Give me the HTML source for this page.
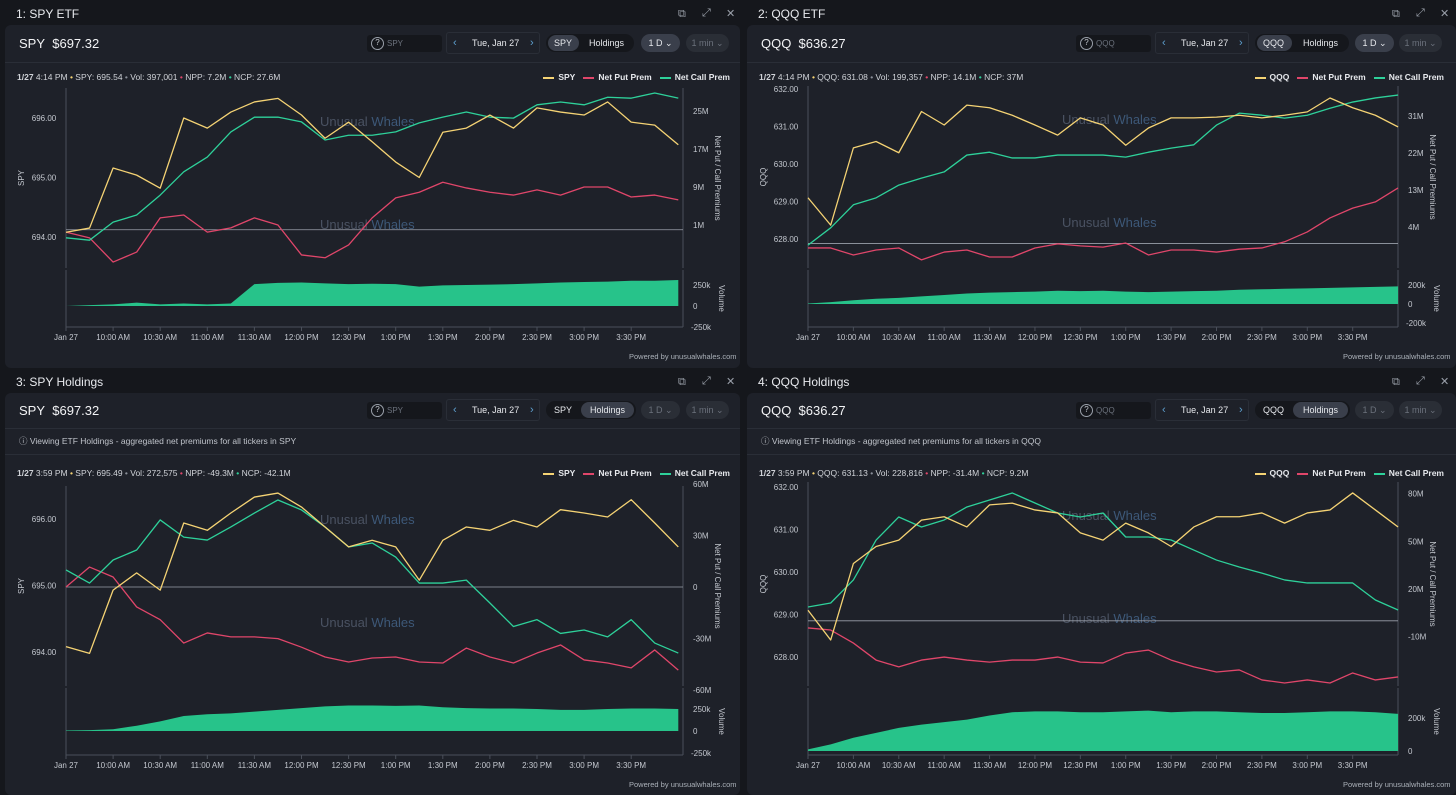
<!DOCTYPE html>
<html><head><meta charset="utf-8">
<style>
*{margin:0;padding:0;box-sizing:border-box}
body{width:1456px;height:795px;background:#15171c;font-family:"Liberation Sans",sans-serif;color:#e6e8ec;position:relative;overflow:hidden}
.a{position:absolute;white-space:nowrap}
.title{font-size:12px;color:#e8eaee}
.card{background:#1e2129;border-radius:6px}
.icon{font-size:11px;color:#9aa0aa}
.tick{font-size:13px;color:#f2f3f5}
.search{background:#15171c;border-radius:3px;height:17px;width:75px;font-size:8px;color:#6b717c;padding:4px 0 0 20px}
.search:before{content:"?";position:absolute;left:4px;top:2px;width:11px;height:11px;border:1px solid #9aa0aa;border-radius:50%;font-size:8px;line-height:10px;text-align:center;color:#c4c8cf}
.date{border:1px solid #2a2e37;border-radius:3px;height:22px;font-size:9px;color:#e6e8ec;padding-top:5px}
.date .l,.date .r{position:absolute;top:4px;color:#5ea0d0;font-size:11px}
.tog{background:#15171c;border-radius:9px;height:18px;font-size:9px;color:#e6e8ec}
.pill{position:absolute;top:1px;height:16px;border-radius:8px;background:#3a3f4b}
.tl{position:absolute;top:4px}
.dd{height:18px;border-radius:9px;font-size:9px;padding-top:4px;text-align:center}
.div{height:1px;background:#2a2e37}
.info{font-size:8.5px;color:#d0d3d8}
.note{font-size:8.5px;color:#c0c4cb}
.leg{font-size:8.5px;font-weight:bold;color:#e6e8ec}
.leg i{display:inline-block;width:11px;height:2px;vertical-align:middle;margin:0 4px 0 8px}
.pow{font-size:7.5px;color:#aab0b8}
</style></head><body>

<!-- Panel 1 -->
<div class="a title" style="left:16px;top:7px">1: SPY ETF</div>
<div class="a icon" style="left:678px;top:8px">⧉</div>
<div class="a icon" style="left:702px;top:7px">⤢</div>
<div class="a icon" style="left:726px;top:7px">✕</div>
<div class="a card" style="left:5px;top:25px;width:735px;height:343px"></div>
<div class="a tick" style="left:19px;top:36px">SPY&nbsp; $697.32</div>
<div class="a search" style="left:367px;top:35px">SPY</div>
<div class="a date" style="left:446px;top:32px;width:94px"><span class="l" style="left:6px">‹</span><span style="position:absolute;left:25px">Tue, Jan 27</span><span class="r" style="left:83px">›</span></div>
<div class="a tog" style="left:546px;top:34px;width:88px"><div class="pill" style="left:2px;width:31px"></div><span class="tl" style="left:8px">SPY</span><span class="tl" style="left:43px">Holdings</span></div>
<div class="a dd" style="left:641px;top:34px;width:39px;background:#3a3f4b;color:#e6e8ec">1 D ⌄</div>
<div class="a dd" style="left:686px;top:34px;width:43px;background:#2a2e36;color:#6b717c">1 min ⌄</div>
<div class="a div" style="left:5px;top:62px;width:735px"></div>
<div class="a info" style="left:17px;top:72px"><b>1/27</b> 4:14 PM <span style="color:#f5d374">•</span> SPY: 695.54 <span style="color:#8a8f99">•</span> Vol: 397,001 <span style="color:#e0466a">•</span> NPP: 7.2M <span style="color:#2ed19a">•</span> NCP: 27.6M</div>
<div class="a leg" style="right:726px;top:72px"><i style="background:#f5d374"></i>SPY<i style="background:#e0466a"></i>Net Put Prem<i style="background:#2ed19a"></i>Net Call Prem</div>
<div class="a pow" style="left:629px;top:352px">Powered by unusualwhales.com</div>

<!-- Panel 2 -->
<div class="a title" style="left:758px;top:7px">2: QQQ ETF</div>
<div class="a icon" style="left:1392px;top:8px">⧉</div>
<div class="a icon" style="left:1416px;top:7px">⤢</div>
<div class="a icon" style="left:1440px;top:7px">✕</div>
<div class="a card" style="left:747px;top:25px;width:709px;height:343px"></div>
<div class="a tick" style="left:761px;top:36px">QQQ&nbsp; $636.27</div>
<div class="a search" style="left:1076px;top:35px">QQQ</div>
<div class="a date" style="left:1155px;top:32px;width:94px"><span class="l" style="left:6px">‹</span><span style="position:absolute;left:25px">Tue, Jan 27</span><span class="r" style="left:83px">›</span></div>
<div class="a tog" style="left:1255px;top:34px;width:94px"><div class="pill" style="left:2px;width:35px"></div><span class="tl" style="left:8px">QQQ</span><span class="tl" style="left:48px">Holdings</span></div>
<div class="a dd" style="left:1355px;top:34px;width:39px;background:#3a3f4b;color:#e6e8ec">1 D ⌄</div>
<div class="a dd" style="left:1399px;top:34px;width:43px;background:#2a2e36;color:#6b717c">1 min ⌄</div>
<div class="a div" style="left:747px;top:62px;width:709px"></div>
<div class="a info" style="left:759px;top:72px"><b>1/27</b> 4:14 PM <span style="color:#f5d374">•</span> QQQ: 631.08 <span style="color:#8a8f99">•</span> Vol: 199,357 <span style="color:#e0466a">•</span> NPP: 14.1M <span style="color:#2ed19a">•</span> NCP: 37M</div>
<div class="a leg" style="right:12px;top:72px"><i style="background:#f5d374"></i>QQQ<i style="background:#e0466a"></i>Net Put Prem<i style="background:#2ed19a"></i>Net Call Prem</div>
<div class="a pow" style="left:1343px;top:352px">Powered by unusualwhales.com</div>

<!-- Panel 3 -->
<div class="a title" style="left:16px;top:375px">3: SPY Holdings</div>
<div class="a icon" style="left:678px;top:376px">⧉</div>
<div class="a icon" style="left:702px;top:375px">⤢</div>
<div class="a icon" style="left:726px;top:375px">✕</div>
<div class="a card" style="left:5px;top:393px;width:735px;height:402px"></div>
<div class="a tick" style="left:19px;top:403px">SPY&nbsp; $697.32</div>
<div class="a search" style="left:367px;top:402px">SPY</div>
<div class="a date" style="left:446px;top:399px;width:94px"><span class="l" style="left:6px">‹</span><span style="position:absolute;left:25px">Tue, Jan 27</span><span class="r" style="left:83px">›</span></div>
<div class="a tog" style="left:546px;top:401px;width:90px"><div class="pill" style="left:35px;width:53px"></div><span class="tl" style="left:8px">SPY</span><span class="tl" style="left:44px">Holdings</span></div>
<div class="a dd" style="left:641px;top:401px;width:39px;background:#2a2e36;color:#6b717c">1 D ⌄</div>
<div class="a dd" style="left:686px;top:401px;width:43px;background:#2a2e36;color:#6b717c">1 min ⌄</div>
<div class="a div" style="left:5px;top:428px;width:735px"></div>
<div class="a note" style="left:19px;top:435px">ⓘ Viewing ETF Holdings - aggregated net premiums for all tickers in SPY</div>
<div class="a div" style="left:5px;top:454px;width:735px"></div>
<div class="a info" style="left:17px;top:468px"><b>1/27</b> 3:59 PM <span style="color:#f5d374">•</span> SPY: 695.49 <span style="color:#8a8f99">•</span> Vol: 272,575 <span style="color:#e0466a">•</span> NPP: -49.3M <span style="color:#2ed19a">•</span> NCP: -42.1M</div>
<div class="a leg" style="right:726px;top:468px"><i style="background:#f5d374"></i>SPY<i style="background:#e0466a"></i>Net Put Prem<i style="background:#2ed19a"></i>Net Call Prem</div>
<div class="a pow" style="left:629px;top:780px">Powered by unusualwhales.com</div>

<!-- Panel 4 -->
<div class="a title" style="left:758px;top:375px">4: QQQ Holdings</div>
<div class="a icon" style="left:1392px;top:376px">⧉</div>
<div class="a icon" style="left:1416px;top:375px">⤢</div>
<div class="a icon" style="left:1440px;top:375px">✕</div>
<div class="a card" style="left:747px;top:393px;width:709px;height:402px"></div>
<div class="a tick" style="left:761px;top:403px">QQQ&nbsp; $636.27</div>
<div class="a search" style="left:1076px;top:402px">QQQ</div>
<div class="a date" style="left:1155px;top:399px;width:94px"><span class="l" style="left:6px">‹</span><span style="position:absolute;left:25px">Tue, Jan 27</span><span class="r" style="left:83px">›</span></div>
<div class="a tog" style="left:1255px;top:401px;width:95px"><div class="pill" style="left:38px;width:55px"></div><span class="tl" style="left:8px">QQQ</span><span class="tl" style="left:48px">Holdings</span></div>
<div class="a dd" style="left:1355px;top:401px;width:39px;background:#2a2e36;color:#6b717c">1 D ⌄</div>
<div class="a dd" style="left:1399px;top:401px;width:43px;background:#2a2e36;color:#6b717c">1 min ⌄</div>
<div class="a div" style="left:747px;top:428px;width:709px"></div>
<div class="a note" style="left:761px;top:435px">ⓘ Viewing ETF Holdings - aggregated net premiums for all tickers in QQQ</div>
<div class="a div" style="left:747px;top:454px;width:709px"></div>
<div class="a info" style="left:759px;top:468px"><b>1/27</b> 3:59 PM <span style="color:#f5d374">•</span> QQQ: 631.13 <span style="color:#8a8f99">•</span> Vol: 228,816 <span style="color:#e0466a">•</span> NPP: -31.4M <span style="color:#2ed19a">•</span> NCP: 9.2M</div>
<div class="a leg" style="right:12px;top:468px"><i style="background:#f5d374"></i>QQQ<i style="background:#e0466a"></i>Net Put Prem<i style="background:#2ed19a"></i>Net Call Prem</div>
<div class="a pow" style="left:1343px;top:780px">Powered by unusualwhales.com</div>

<svg id="charts" class="a" style="left:0;top:0" width="1456" height="795"></svg>

<script>
// ---- shared data ----
const times = [0,15,30,45,60,75,90,105,120,135,150,165,180,195,210,225,240,255,270,285,300,315,330,345,360,375,390];
const timeTickMinutes = [0,30,60,90,120,150,180,210,240,270,300,330,360];
const timeTickLabels = ["Jan 27","10:00 AM","10:30 AM","11:00 AM","11:30 AM","12:00 PM","12:30 PM","1:00 PM","1:30 PM","2:00 PM","2:30 PM","3:00 PM","3:30 PM"];

// ---- panel 1: SPY ETF ----
const p1Price = [694.08,694.15,695.16,695.04,694.82,696.0,695.83,696.1,696.27,696.33,696.05,695.66,695.93,695.6,695.26,695.0,695.76,695.83,696.05,695.83,696.17,696.1,696.05,696.27,695.93,695.88,695.55];
const p1Call = [-1.7,-2.2,1.6,3.1,7.3,12.2,15.3,20.6,23.7,23.7,22.7,18.9,19.9,19.9,20.6,22.5,23.7,24.8,23.7,23.5,26.3,26.9,26.3,27.9,27.7,28.8,27.7];
const p1Put = [-0.5,-1.7,-6.8,-4.7,2.5,3.1,-0.5,0.4,2.5,1.0,-5.3,-5.9,-3.2,2.5,6.7,7.9,10.0,8.8,7.9,7.3,8.4,7.3,9.0,9.0,6.9,7.3,6.3];
const p1Vol = [0,10,20,40,20,30,20,30,260,275,280,270,260,265,260,230,245,250,255,260,270,280,285,290,300,300,310];
const p1LeftTicks = [696,695,694];
const p1RightTicks = [25,17,9,1];
const p1VolTicks = [250,0,-250];

// ---- panel 2: QQQ ETF ----
const p2Price = [629.1,628.37,630.43,630.6,630.3,631.4,631.04,631.57,631.5,631.3,631.04,630.77,631.23,631.04,630.5,630.96,631.23,631.23,631.25,631.3,631.23,631.3,631.39,631.76,631.5,631.3,630.99];
const p2Call = [-0.4,3.8,9.4,11.1,14.2,15.9,17.4,21.5,22.2,20.8,20.8,21.5,21.5,21.5,21.0,22.2,23.2,24.0,28.8,31.7,31.2,30.5,31.2,32.9,34.4,35.4,36.1];
const p2Put = [-1.1,-1.1,-2.8,-1.6,-1.1,-4.0,-2.1,-1.6,-3.3,-3.3,-1.1,-0.1,-0.6,-0.9,0.1,-2.8,-1.6,-1.6,-2.1,-1.4,-1.1,0.4,2.8,6.2,8.6,10.1,13.5];
const p2Vol = [5,20,40,55,65,80,95,110,120,125,130,140,135,140,130,125,130,135,140,150,155,160,165,170,175,180,185];
const p2LeftTicks = [632,631,630,629,628];
const p2RightTicks = [31,22,13,4];
const p2VolTicks = [200,0,-200];

// ---- panel 3: SPY Holdings ----
const p3Price = [694.08,693.98,694.93,695.19,694.93,695.94,695.83,696.09,696.33,696.39,696.18,695.88,695.58,695.68,695.58,695.08,695.68,695.88,695.83,695.98,695.88,696.14,696.09,696.03,696.29,695.94,695.58];
const p3Call = [9.9,2.3,15.7,21.5,39,29,27.3,34.9,43,50.6,44.8,34.9,23.3,25.6,17.4,2.3,2.3,4,-9.3,-23,-19,-27,-25,-29,-19,-32.6,-38.4];
const p3Put = [0,11.6,5.8,-11.6,-19,-32.6,-26.7,-29,-29,-30,-35,-40.7,-43.6,-41.3,-40.7,-43.6,-44.2,-35.5,-40.7,-44.2,-38.4,-33.7,-42.4,-44.2,-47,-36.6,-48.3];
const p3Vol = [5,10,20,60,110,170,190,200,220,240,260,280,290,290,285,290,270,260,255,255,250,240,240,250,255,255,250];
const p3LeftTicks = [696,695,694];
const p3RightTicks = [60,30,0,-30,-60];
const p3VolTicks = [250,0,-250];

// ---- panel 4: QQQ Holdings ----
const p4Price = [629.1,628.4,630.2,630.6,630.75,631.22,631.3,631.06,631.58,631.62,631.46,631.39,630.92,630.75,631.15,630.92,630.6,631.06,631.3,631.3,631.39,631.15,631.39,631.46,631.86,631.46,631.06];
const p4Call = [8.7,11.2,25.7,50.8,65.3,59,63.4,71.6,76,80.4,74.1,67.8,65.3,67.8,52.7,52.7,50.8,44.5,38.2,33.8,30,25.7,23.8,23.8,23.8,13.1,6.8];
const p4Put = [-4.5,-5.8,-14,-24.7,-29,-24.7,-22.8,-24.7,-26,-24.7,-24.7,-22.8,-26,-26.5,-20.3,-18.4,-24.7,-29,-32.2,-30.9,-37.2,-39.1,-37.2,-39.1,-32.8,-37.2,-35.3];
const p4Vol = [10,40,80,110,140,160,175,190,215,235,240,240,235,235,240,245,235,240,240,235,230,230,235,240,240,235,225];
const p4LeftTicks = [632,631,630,629,628];
const p4RightTicks = [80,50,20,-10];
const p4VolTicks = [200,0];

const NS = "http://www.w3.org/2000/svg";
const svg = document.getElementById("charts");
function mk(tag, attrs, parent){ const e=document.createElementNS(NS,tag); for(const k in attrs) e.setAttribute(k,attrs[k]); (parent||svg).appendChild(e); return e; }
function fmtM(v){ return v===0 ? "0" : v+"M"; }
function fmtK(v){ return v===0 ? "0" : v+"k"; }

function drawPanel(id, g, price, call, put, vol, lt, rt, vt, ticker){
  const grp = mk("g",{});
  
  
  const X = t => g.x0 + t*g.ppm;
  const YL = v => g.lY + (g.lV - v)*g.lS;
  const YR = m => g.rY - (m - g.rV)*g.rS;
  const YV = k => g.vY - k*g.vS;
  const ax = "#4a4f5a";
  // axes lines
  let e;
  e = mk("line",{x1:g.x0,y1:g.pTop,x2:g.x0,y2:g.pBot,stroke:ax,"stroke-width":1},grp);
   
  e = mk("line",{x1:g.xEnd,y1:g.pTop,x2:g.xEnd,y2:g.pBot,stroke:ax,"stroke-width":1},grp);
   
  e = mk("line",{x1:g.x0,y1:g.vTop,x2:g.x0,y2:g.vBot,stroke:ax,"stroke-width":1},grp);
   
  e = mk("line",{x1:g.xEnd,y1:g.vTop,x2:g.xEnd,y2:g.vBot,stroke:ax,"stroke-width":1},grp);
   
  e = mk("line",{x1:g.x0,y1:g.vBot,x2:g.xEnd,y2:g.vBot,stroke:ax,"stroke-width":1},grp);
   
  // time ticks
  timeTickMinutes.forEach((t,i)=>{
    const x = X(t);
    const tl = mk("line",{x1:x,y1:g.vBot,x2:x,y2:g.vBot+4,stroke:ax},grp);
     
    const tx = mk("text",{x:x,y:g.vBot+13,"font-size":8,fill:"#c4c8cf","text-anchor":"middle"},grp);
    tx.textContent = timeTickLabels[i];
     
  });
  // left ticks
  lt.forEach(v=>{
    const t = mk("text",{x:g.x0-22,y:YL(v)+3,"font-size":8,fill:"#c4c8cf","text-anchor":"middle"},grp);
    t.textContent = v.toFixed(2);
     
  });
  // right ticks
  rt.forEach(v=>{
    const t = mk("text",{x:g.xEnd+10,y:YR(v)+3,"font-size":8,fill:"#c4c8cf"},grp);
    t.textContent = fmtM(v);
     
  });
  vt.forEach(v=>{
    const t = mk("text",{x:g.xEnd+(v<0?8:10),y:YV(v)+3,"font-size":8,fill:"#c4c8cf"},grp);
    t.textContent = fmtK(v);
     
  });
  // axis titles
  const cy = (g.pTop+g.pBot)/2;
  let t1 = mk("text",{x:0,y:0,"font-size":8,fill:"#c4c8cf","text-anchor":"middle",transform:`translate(${g.x0-42},${cy}) rotate(-90)`},grp);
  t1.textContent = ticker;
   
  let t2 = mk("text",{x:0,y:0,"font-size":8,fill:"#c4c8cf","text-anchor":"middle",transform:`translate(${g.xEnd+32},${cy}) rotate(90)`},grp);
  t2.textContent = "Net Put / Call Premiums";
   
  let t3 = mk("text",{x:0,y:0,"font-size":8,fill:"#c4c8cf","text-anchor":"middle",transform:`translate(${g.xEnd+36},${(g.vTop+g.vBot)/2}) rotate(90)`},grp);
  t3.textContent = "Volume";
   
  // watermarks
  [g.pTop+38, g.pTop+141].forEach(y=>{
    const w = mk("text",{x:g.x0+254,y:y,"font-size":13,fill:"#4a5262"},grp);
    w.innerHTML = 'Unusual <tspan fill="#3d5878">Whales</tspan>';
     
  });
  // zero line
  const z = mk("line",{x1:g.x0,y1:YR(0),x2:g.xEnd,y2:YR(0),stroke:"#9aa0aa","stroke-width":0.8},grp);
   
  // volume area
  let d = `M${X(times[0])},${YV(0)} ` + vol.map((v,i)=>`L${X(times[i])},${YV(v)}`).join(" ") + ` L${X(times[times.length-1])},${YV(0)} Z`;
  const va = mk("path",{d:d,fill:"#27c38a"},grp);
   
  // lines
  const line = (arr, f, color, name) => {
    const pl = mk("polyline",{points:arr.map((v,i)=>X(times[i])+","+f(v)).join(" "),fill:"none",stroke:color,"stroke-width":1.3,"stroke-linejoin":"round"},grp);
     
  };
  line(put, YR, "#e0466a", "net-put-line");
  line(call, YR, "#2ed19a", "net-call-line");
  line(price, YL, "#f5d374", "price-line");
}

drawPanel("spy-etf",{x0:66,ppm:1.57,xEnd:683,pTop:88,pBot:268,vTop:270,vBot:327,lY:118,lV:696,lS:59.5,rY:225,rV:1,rS:4.75,vY:306,vS:21/250},p1Price,p1Call,p1Put,p1Vol,p1LeftTicks,p1RightTicks,p1VolTicks,"SPY");
drawPanel("qqq-etf",{x0:808,ppm:1.513,xEnd:1398,pTop:86,pBot:268,vTop:270,vBot:327,lY:89,lV:632,lS:37.5,rY:227,rV:4,rS:4.11,vY:304,vS:19/200},p2Price,p2Call,p2Put,p2Vol,p2LeftTicks,p2RightTicks,p2VolTicks,"QQQ");
drawPanel("spy-holdings",{x0:66,ppm:1.57,xEnd:683,pTop:486,pBot:686,vTop:688,vBot:755,lY:519,lV:696,lS:66.5,rY:587,rV:0,rS:1.72,vY:731,vS:22/250},p3Price,p3Call,p3Put,p3Vol,p3LeftTicks,p3RightTicks,p3VolTicks,"SPY");
drawPanel("qqq-holdings",{x0:808,ppm:1.513,xEnd:1398,pTop:482,pBot:686,vTop:688,vBot:755,lY:487,lV:632,lS:42.5,rY:589,rV:20,rS:1.59,vY:751,vS:33/200},p4Price,p4Call,p4Put,p4Vol,p4LeftTicks,p4RightTicks,p4VolTicks,"QQQ");
</script>
</body></html>
